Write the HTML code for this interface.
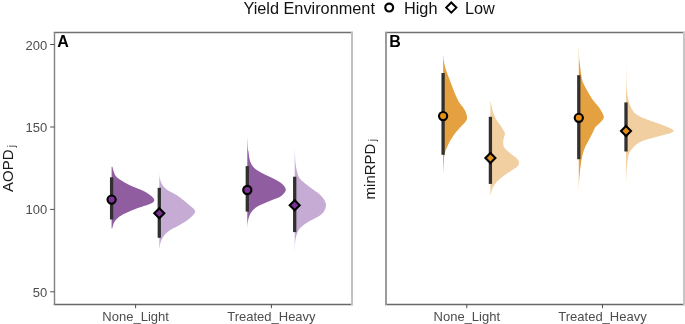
<!DOCTYPE html>
<html><head><meta charset="utf-8"><style>
html,body{margin:0;padding:0;background:#fff;width:685px;height:324px;overflow:hidden}
svg text{font-family:"Liberation Sans",sans-serif}
svg{filter:blur(0.3px)}
</style></head><body>
<svg width="685" height="324" viewBox="0 0 685 324" style="display:block">
<text x="243.4" y="13.5" font-size="16.3" fill="#111">Yield Environment</text>
<circle cx="389.2" cy="7.6" r="3.9" fill="none" stroke="#000" stroke-width="2.2"/>
<text x="404.0" y="13.5" font-size="16.3" fill="#111">High</text>
<path d="M451.3,2.5 L456.4,7.6 L451.3,12.7 L446.2,7.6 Z" fill="none" stroke="#000" stroke-width="2.0" stroke-linejoin="miter"/>
<text x="465.0" y="13.5" font-size="16.3" fill="#111">Low</text>
<line x1="53.8" x2="353" y1="32.5" y2="32.5" stroke="#707070" stroke-width="1.4"/>
<line x1="385" x2="685" y1="32.5" y2="32.5" stroke="#707070" stroke-width="1.4"/>
<line x1="53.8" x2="353" y1="304.5" y2="304.5" stroke="#686868" stroke-width="1.4"/>
<line x1="385" x2="685" y1="304.5" y2="304.5" stroke="#686868" stroke-width="1.4"/>
<line x1="54.5" x2="54.5" y1="32" y2="305" stroke="#808080" stroke-width="1.4"/>
<line x1="352.0" x2="352.0" y1="32" y2="305" stroke="#c2c2c2" stroke-width="2"/>
<line x1="386.0" x2="386.0" y1="32" y2="305" stroke="#9c9c9c" stroke-width="2"/>
<line x1="684.0" x2="684.0" y1="32" y2="305" stroke="#c6c6c6" stroke-width="2"/>
<line x1="50.2" x2="54.5" y1="44.5" y2="44.5" stroke="#4D4D4D" stroke-width="1"/>
<text x="47.3" y="49.5" font-size="13" fill="#4D4D4D" text-anchor="end">200</text>
<line x1="50.2" x2="54.5" y1="127.0" y2="127.0" stroke="#4D4D4D" stroke-width="1"/>
<text x="47.3" y="132.0" font-size="13" fill="#4D4D4D" text-anchor="end">150</text>
<line x1="50.2" x2="54.5" y1="209.4" y2="209.4" stroke="#4D4D4D" stroke-width="1"/>
<text x="47.3" y="214.4" font-size="13" fill="#4D4D4D" text-anchor="end">100</text>
<line x1="50.2" x2="54.5" y1="291.8" y2="291.8" stroke="#4D4D4D" stroke-width="1"/>
<text x="47.3" y="296.8" font-size="13" fill="#4D4D4D" text-anchor="end">50</text>
<line x1="135.6" x2="135.6" y1="304.3" y2="308.2" stroke="#4D4D4D" stroke-width="1"/>
<text x="135.6" y="320.8" font-size="13" fill="#4D4D4D" text-anchor="middle">None_Light</text>
<line x1="271.4" x2="271.4" y1="304.3" y2="308.2" stroke="#4D4D4D" stroke-width="1"/>
<text x="271.4" y="320.8" font-size="13" fill="#4D4D4D" text-anchor="middle">Treated_Heavy</text>
<line x1="466.8" x2="466.8" y1="304.3" y2="308.2" stroke="#4D4D4D" stroke-width="1"/>
<text x="466.8" y="320.8" font-size="13" fill="#4D4D4D" text-anchor="middle">None_Light</text>
<line x1="602.5" x2="602.5" y1="304.3" y2="308.2" stroke="#4D4D4D" stroke-width="1"/>
<text x="602.5" y="320.8" font-size="13" fill="#4D4D4D" text-anchor="middle">Treated_Heavy</text>
<text x="57.2" y="47.0" font-size="16" font-weight="bold" fill="#000">A</text>
<text x="389.2" y="47.0" font-size="16" font-weight="bold" fill="#000">B</text>
<text transform="translate(12.9,192) rotate(-90)" font-size="15" fill="#1A1A1A">AOPD<tspan font-size="10" dy="1.8" dx="2.3">j</tspan></text>
<text transform="translate(374.6,199.4) rotate(-90)" font-size="15" fill="#1A1A1A">minRPD<tspan font-size="10" dy="1.8" dx="2.3">j</tspan></text>
<path d="M111.60,166.80 L112.40,166.80 C112.65,167.72 113.17,170.55 113.90,172.30 C114.63,174.05 115.08,175.65 116.80,177.30 C118.52,178.95 121.73,180.77 124.20,182.20 C126.67,183.63 128.92,184.67 131.60,185.90 C134.28,187.13 137.65,188.37 140.30,189.60 C142.95,190.83 145.50,192.07 147.50,193.30 C149.50,194.53 151.17,195.90 152.30,197.00 C153.43,198.10 154.22,199.00 154.30,199.90 C154.38,200.80 153.77,201.65 152.80,202.40 C151.83,203.15 150.58,203.58 148.50,204.40 C146.42,205.22 143.32,206.20 140.30,207.30 C137.28,208.40 133.38,209.75 130.40,211.00 C127.42,212.25 124.58,213.55 122.40,214.80 C120.22,216.05 118.67,217.27 117.30,218.50 C115.93,219.73 114.92,221.03 114.20,222.20 C113.48,223.37 113.33,224.45 113.00,225.50 C112.67,226.55 112.33,228.00 112.20,228.50 L111.60,228.50 Z" fill="#905DA1"/>
<path d="M159.30,174.20 L159.40,174.20 C159.47,174.88 159.38,176.68 159.80,178.30 C160.22,179.92 160.75,182.05 161.90,183.90 C163.05,185.75 164.25,187.55 166.70,189.40 C169.15,191.25 173.72,193.13 176.60,195.00 C179.48,196.87 181.72,198.75 184.00,200.60 C186.28,202.45 188.72,204.77 190.30,206.10 C191.88,207.43 192.70,207.62 193.50,208.60 C194.30,209.58 195.27,210.80 195.10,212.00 C194.93,213.20 193.73,214.48 192.50,215.80 C191.27,217.12 189.83,218.38 187.70,219.90 C185.57,221.42 182.17,223.45 179.70,224.90 C177.23,226.35 174.97,227.37 172.90,228.60 C170.83,229.83 168.95,230.87 167.30,232.30 C165.65,233.73 164.12,235.55 163.00,237.20 C161.88,238.85 161.22,240.23 160.60,242.20 C159.98,244.17 159.52,247.87 159.30,249.00 L159.30,249.00 Z" fill="#C6ACD4"/>
<path d="M247.30,138.40 L247.40,138.40 C247.48,140.10 247.72,146.33 247.90,148.60 C248.08,150.87 248.23,150.30 248.50,152.00 C248.77,153.70 249.03,156.82 249.50,158.80 C249.97,160.78 250.32,162.20 251.30,163.90 C252.28,165.60 253.32,167.32 255.40,169.00 C257.48,170.68 260.65,172.32 263.80,174.00 C266.95,175.68 271.20,177.40 274.30,179.10 C277.40,180.80 280.48,182.47 282.40,184.20 C284.32,185.93 285.67,187.82 285.80,189.50 C285.93,191.18 284.30,193.00 283.20,194.30 C282.10,195.60 281.23,196.28 279.20,197.30 C277.17,198.32 274.15,199.10 271.00,200.40 C267.85,201.70 263.25,203.55 260.30,205.10 C257.35,206.65 255.13,207.90 253.30,209.70 C251.47,211.50 250.25,213.58 249.30,215.90 C248.35,218.22 247.93,221.17 247.60,223.60 C247.27,226.03 247.35,229.35 247.30,230.50 L247.30,230.50 Z" fill="#905DA1"/>
<path d="M294.70,147.00 L294.75,147.00 C294.77,147.83 294.76,149.83 294.85,152.00 C294.94,154.17 295.12,157.67 295.30,160.00 C295.48,162.33 295.58,164.00 295.90,166.00 C296.22,168.00 296.62,170.00 297.20,172.00 C297.78,174.00 298.17,176.18 299.40,178.00 C300.63,179.82 302.67,181.25 304.60,182.90 C306.53,184.55 308.80,186.25 311.00,187.90 C313.20,189.55 315.83,191.15 317.80,192.80 C319.77,194.45 321.53,196.23 322.80,197.80 C324.07,199.37 324.88,200.83 325.40,202.20 C325.92,203.57 326.13,204.47 325.90,206.00 C325.67,207.53 325.18,209.68 324.00,211.40 C322.82,213.12 321.72,214.37 318.80,216.30 C315.88,218.23 309.80,220.80 306.50,223.00 C303.20,225.20 300.78,226.98 299.00,229.50 C297.22,232.02 296.48,235.22 295.80,238.10 C295.12,240.98 295.08,243.57 294.90,246.80 C294.72,250.03 294.73,255.72 294.70,257.50 L294.70,257.50 Z" fill="#C6ACD4"/>
<path d="M443.10,56.00 L443.30,56.00 C443.42,57.00 443.55,59.65 444.00,62.00 C444.45,64.35 445.17,67.42 446.00,70.10 C446.83,72.78 448.00,75.43 449.00,78.10 C450.00,80.77 450.98,83.43 452.00,86.10 C453.02,88.77 453.92,91.42 455.10,94.10 C456.28,96.78 457.95,100.22 459.10,102.20 C460.25,104.18 461.00,104.58 462.00,106.00 C463.00,107.42 464.25,108.83 465.10,110.70 C465.95,112.57 466.95,115.48 467.10,117.20 C467.25,118.92 466.77,119.70 466.00,121.00 C465.23,122.30 463.92,123.42 462.50,125.00 C461.08,126.58 459.22,128.43 457.50,130.50 C455.78,132.57 453.73,135.08 452.20,137.40 C450.67,139.72 449.55,141.70 448.30,144.40 C447.05,147.10 445.45,150.52 444.70,153.60 C443.95,156.68 444.07,159.43 443.80,162.90 C443.53,166.37 443.22,172.48 443.10,174.40 L443.10,174.40 Z" fill="#E5A03F"/>
<path d="M490.40,101.20 L490.60,101.20 C490.82,102.22 491.42,105.27 491.90,107.30 C492.38,109.33 492.60,111.10 493.50,113.40 C494.40,115.70 495.77,118.52 497.30,121.10 C498.83,123.68 501.42,126.83 502.70,128.90 C503.98,130.97 504.82,131.97 505.00,133.50 C505.18,135.03 504.10,136.55 503.80,138.10 C503.50,139.65 503.12,141.25 503.20,142.80 C503.28,144.35 503.22,145.75 504.30,147.40 C505.38,149.05 507.90,151.10 509.70,152.70 C511.50,154.30 513.57,155.53 515.10,157.00 C516.63,158.47 518.55,159.90 518.90,161.50 C519.25,163.10 518.60,164.98 517.20,166.60 C515.80,168.22 512.78,169.65 510.50,171.20 C508.22,172.75 505.57,174.35 503.50,175.90 C501.43,177.45 499.63,178.97 498.10,180.50 C496.57,182.03 495.33,183.55 494.30,185.10 C493.27,186.65 492.47,188.25 491.90,189.80 C491.33,191.35 491.07,193.63 490.90,194.40 L490.40,194.40 Z" fill="#F1CFA0"/>
<path d="M578.80,47.00 L578.90,47.00 C578.95,48.92 579.07,55.82 579.20,58.50 C579.33,61.18 579.42,60.78 579.70,63.10 C579.98,65.42 580.40,69.30 580.90,72.40 C581.40,75.50 581.62,78.62 582.70,81.70 C583.78,84.78 585.67,87.82 587.40,90.90 C589.13,93.98 591.27,97.60 593.10,100.20 C594.93,102.80 597.05,104.70 598.40,106.50 C599.75,108.30 600.28,109.17 601.20,111.00 C602.12,112.83 604.18,115.47 603.90,117.50 C603.62,119.53 600.90,121.63 599.50,123.20 C598.10,124.77 596.58,125.45 595.50,126.90 C594.42,128.35 594.03,129.83 593.00,131.90 C591.97,133.97 590.58,136.83 589.30,139.30 C588.02,141.77 586.43,144.08 585.30,146.70 C584.17,149.32 583.28,151.77 582.50,155.00 C581.72,158.23 581.15,161.93 580.60,166.10 C580.05,170.27 579.50,175.37 579.20,180.00 C578.90,184.63 578.87,191.58 578.80,193.90 L578.80,193.90 Z" fill="#E5A03F"/>
<path d="M626.00,67.00 L626.10,67.00 C626.17,70.08 626.33,81.27 626.50,85.50 C626.67,89.73 626.80,89.98 627.10,92.40 C627.40,94.82 627.63,97.50 628.30,100.00 C628.97,102.50 630.02,105.23 631.10,107.40 C632.18,109.57 633.25,111.45 634.80,113.00 C636.35,114.55 637.93,115.47 640.40,116.70 C642.87,117.93 646.37,119.17 649.60,120.40 C652.83,121.63 656.55,122.87 659.80,124.10 C663.05,125.33 666.78,126.72 669.10,127.80 C671.42,128.88 673.55,129.68 673.70,130.60 C673.85,131.52 672.92,132.23 670.00,133.30 C667.08,134.37 660.67,135.77 656.20,137.00 C651.73,138.23 646.52,139.47 643.20,140.70 C639.88,141.93 638.32,142.85 636.30,144.40 C634.28,145.95 632.42,148.13 631.10,150.00 C629.78,151.87 629.10,152.78 628.40,155.60 C627.70,158.42 627.28,162.55 626.90,166.90 C626.52,171.25 626.23,179.23 626.10,181.70 L626.00,181.70 Z" fill="#F1CFA0"/>
<line x1="111.6" x2="111.6" y1="177.3" y2="219.5" stroke="#303030" stroke-width="3.3"/>
<circle cx="111.6" cy="199.6" r="4.1" fill="#7B3294" stroke="#000" stroke-width="2.1"/>
<line x1="159.3" x2="159.3" y1="187.8" y2="237.8" stroke="#303030" stroke-width="3.3"/>
<path d="M159.3,208.30 L164.30,213.3 L159.3,218.30 L154.30,213.3 Z" fill="#7B3294" stroke="#000" stroke-width="2.1" stroke-linejoin="miter"/>
<line x1="247.3" x2="247.3" y1="166.1" y2="211.6" stroke="#303030" stroke-width="3.3"/>
<circle cx="247.3" cy="190.0" r="4.1" fill="#7B3294" stroke="#000" stroke-width="2.1"/>
<line x1="294.7" x2="294.7" y1="176.7" y2="232.1" stroke="#303030" stroke-width="3.3"/>
<path d="M294.7,200.30 L299.70,205.3 L294.7,210.30 L289.70,205.3 Z" fill="#7B3294" stroke="#000" stroke-width="2.1" stroke-linejoin="miter"/>
<line x1="443.1" x2="443.1" y1="73.0" y2="154.8" stroke="#303030" stroke-width="3.3"/>
<circle cx="443.1" cy="116.1" r="4.1" fill="#E48E1A" stroke="#000" stroke-width="2.1"/>
<line x1="490.4" x2="490.4" y1="116.8" y2="183.9" stroke="#303030" stroke-width="3.3"/>
<path d="M490.4,153.10 L495.40,158.1 L490.4,163.10 L485.40,158.1 Z" fill="#E48E1A" stroke="#000" stroke-width="2.1" stroke-linejoin="miter"/>
<line x1="578.8" x2="578.8" y1="75.2" y2="159.2" stroke="#303030" stroke-width="3.3"/>
<circle cx="578.8" cy="117.8" r="4.1" fill="#E48E1A" stroke="#000" stroke-width="2.1"/>
<line x1="626.0" x2="626.0" y1="102.4" y2="151.5" stroke="#303030" stroke-width="3.3"/>
<path d="M626.0,126.00 L631.00,131.0 L626.0,136.00 L621.00,131.0 Z" fill="#E48E1A" stroke="#000" stroke-width="2.1" stroke-linejoin="miter"/>
</svg>
</body></html>
